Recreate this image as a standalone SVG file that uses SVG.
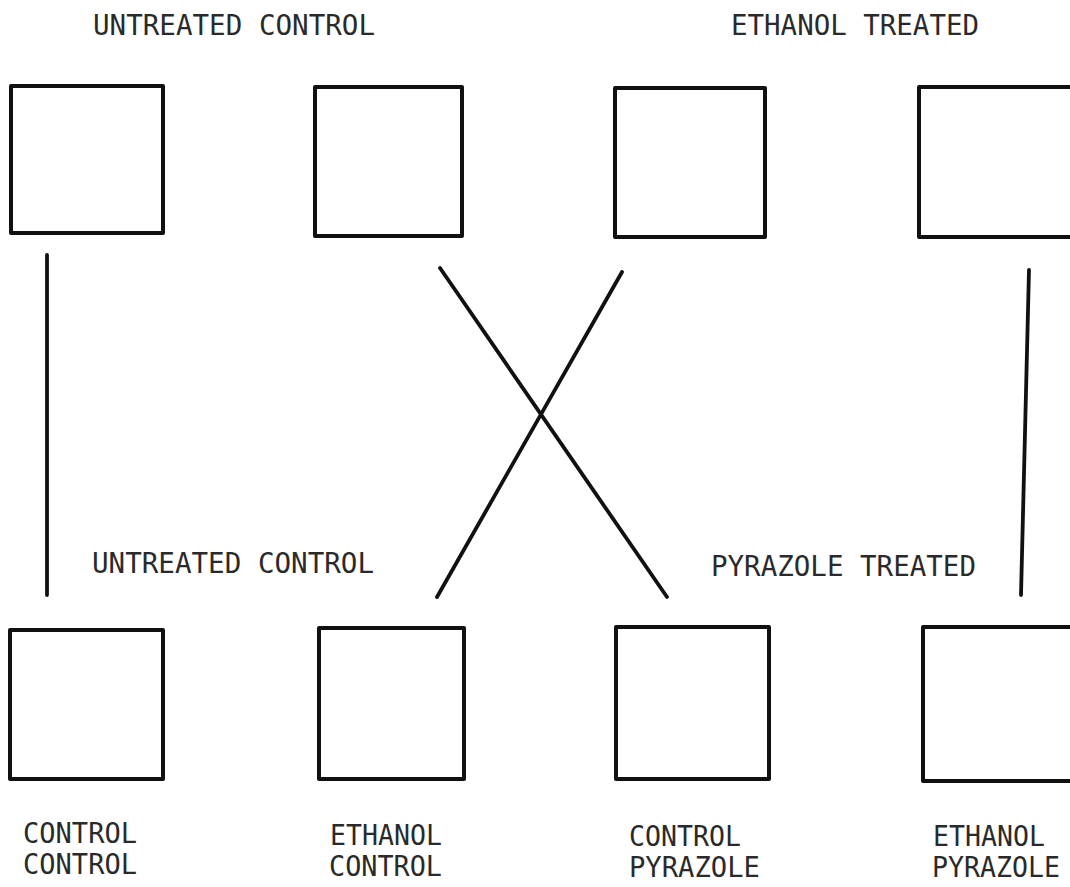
<svg xmlns="http://www.w3.org/2000/svg" width="1070" height="887" viewBox="0 0 1070 887">
  <style>
    .box { fill: #ffffff; stroke: #111111; stroke-width: 4; stroke-linejoin: round; }
    .link { stroke: #111111; stroke-width: 3.8; stroke-linecap: round; fill: none; }
    .lbl { font-family: "DejaVu Sans Mono", "Liberation Mono", monospace; font-size: 29px; fill: #2a2a2a; }
  </style>
  <rect width="1070" height="887" fill="#ffffff"/>

  <!-- group headings -->
  <text class="lbl" x="93" y="35" font-size="30" textLength="282" lengthAdjust="spacingAndGlyphs">UNTREATED CONTROL</text>
  <text class="lbl" x="731" y="35" font-size="30" textLength="248" lengthAdjust="spacingAndGlyphs">ETHANOL TREATED</text>
  <text class="lbl" x="92" y="573" font-size="30" textLength="282" lengthAdjust="spacingAndGlyphs">UNTREATED CONTROL</text>
  <text class="lbl" x="711" y="576" font-size="30" textLength="265" lengthAdjust="spacingAndGlyphs">PYRAZOLE TREATED</text>

  <!-- parent row -->
  <g id="parent-control-1"><rect class="box" x="11" y="86" width="152" height="147"/></g>
  <g id="parent-control-2"><rect class="box" x="315" y="87" width="147" height="149"/></g>
  <g id="parent-ethanol-1"><rect class="box" x="615" y="88" width="150" height="149"/></g>
  <g id="parent-ethanol-2"><rect class="box" x="919" y="87" width="155" height="150"/></g>

  <!-- offspring row -->
  <g id="control-control">
    <rect class="box" x="10" y="630" width="153" height="149"/>
    <text class="lbl" x="23" y="843" textLength="114" lengthAdjust="spacingAndGlyphs">CONTROL</text>
    <text class="lbl" x="23" y="874" textLength="114" lengthAdjust="spacingAndGlyphs">CONTROL</text>
  </g>
  <g id="ethanol-control">
    <rect class="box" x="319" y="628" width="145" height="151"/>
    <text class="lbl" x="330" y="845" textLength="112" lengthAdjust="spacingAndGlyphs">ETHANOL</text>
    <text class="lbl" x="329" y="876" textLength="113" lengthAdjust="spacingAndGlyphs">CONTROL</text>
  </g>
  <g id="control-pyrazole">
    <rect class="box" x="616" y="627" width="153" height="152"/>
    <text class="lbl" x="629" y="846" textLength="112" lengthAdjust="spacingAndGlyphs">CONTROL</text>
    <text class="lbl" x="629" y="877" textLength="131" lengthAdjust="spacingAndGlyphs">PYRAZOLE</text>
  </g>
  <g id="ethanol-pyrazole">
    <rect class="box" x="923" y="627" width="155" height="154"/>
    <text class="lbl" x="933" y="846" textLength="112" lengthAdjust="spacingAndGlyphs">ETHANOL</text>
    <text class="lbl" x="932" y="877" textLength="128" lengthAdjust="spacingAndGlyphs">PYRAZOLE</text>
  </g>

  <!-- crosses between parents and offspring -->
  <g id="connectors">
    <line class="link" x1="47" y1="255" x2="47" y2="595"/>
    <line class="link" x1="1029" y1="270" x2="1021" y2="595"/>
    <line class="link" x1="440" y1="268" x2="667" y2="597"/>
    <line class="link" x1="622" y1="272" x2="437" y2="597"/>
  </g>
</svg>
